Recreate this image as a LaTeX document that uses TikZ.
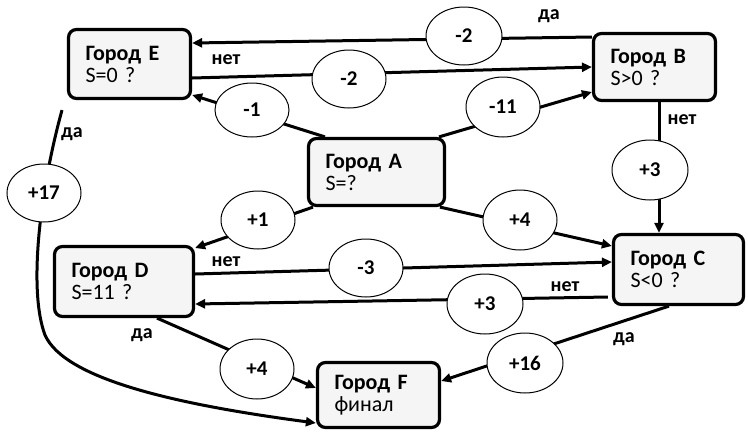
\documentclass[tikz,border=0pt]{standalone}
\usepackage{fontspec}
\setmainfont{Carlito}
\usetikzlibrary{shapes.geometric,arrows.meta,calc}
\begin{document}
\begin{tikzpicture}[x=1pt,y=-1pt,
  city/.style n args={3}{draw,line width=3.2pt,rounded corners=8pt,fill=gray!8,
    align=left,inner xsep=17pt,inner ysep=0pt,text width=#1,minimum width=#2,minimum height=#3,
    font=\fontsize{22}{22}\selectfont},
  ell/.style 2 args={ellipse,draw,line width=1pt,fill=white,minimum width=#1,minimum height=#2,
    inner sep=0pt,font=\bfseries\fontsize{21}{21}\selectfont},
  lab/.style={font=\bfseries\fontsize{20}{20}\selectfont,inner sep=0pt},
  conn/.style={line width=3pt,-{Triangle[length=10pt,width=9pt]}}]
\useasboundingbox (0,0) rectangle (748,432);
% boxes
\node[city={88pt}{122pt}{69pt}] (E) at (129.5,64) {\textbf{Город E}\\S=0 ?};
\node[city={88pt}{122pt}{67pt}] (B) at (654.5,67) {\textbf{Город B}\\S>0 ?};
\node[city={102pt}{136pt}{67pt}] (A) at (376.5,172) {\textbf{Город A}\\S=?};
\node[city={105pt}{139pt}{70pt}] (D) at (124,281.5) {\textbf{Город D}\\S=11 ?};
\node[city={96pt}{130pt}{70pt}] (C) at (678.5,269.5) {\textbf{Город C}\\S<0 ?};
\node[city={88pt}{122pt}{65pt}] (F) at (378.5,395) {\textbf{Город F}\\финал};
% connectors
\draw[conn] (B.west |- 0,37) -- (E.east |- 0,43);
\draw[conn] (E.east |- 0,78) -- (B.west |- 0,67);
\draw[conn] (A.north -| 325,0) -- (E.east |- 0,95);
\draw[conn] (A.north -| 439,0) -- (B.west |- 0,92);
\draw[conn] (B.south -| 659,0) -- (C.north -| 659,0);
\draw[conn] (A.south -| 313,0) -- (D.east |- 0,248);
\draw[conn] (A.south -| 440,0) -- (C.west |- 0,246);
\draw[conn] (D.east |- 0,274) -- (C.west |- 0,262);
\draw[conn] ($(C.west |- 0,297)+(-4,0)$) -- (D.east |- 0,304);
\draw[conn] (D.south -| 157,0) -- (F.west |- 0,388);
\draw[conn] (C.south -| 669,0) -- (F.east |- 0,381);
\draw[conn] ($(E.south -| 62,0)+(0,10)$) .. controls (40,190) and (28,290) .. (45,335)
  .. controls (65,380) and (180,405) .. (F.west |- 0,423);
% value ellipses
\node[ell={76pt}{58pt}] (v1) at (464,36) {-2};
\node[ell={74pt}{58pt}] (v2) at (349,79) {-2};
\node[ell={74pt}{54pt}] (v3) at (252,110) {-1};
\node[ell={74pt}{60pt}] (v4) at (503,107) {-11};
\node[ell={76pt}{60pt}] (v5) at (650,170) {+3};
\node[ell={74pt}{58pt}] (v6) at (44,193) {+17};
\node[ell={74pt}{58pt}] (v7) at (258,220) {+1};
\node[ell={74pt}{60pt}] (v8) at (520,220) {+4};
\node[ell={74pt}{58pt}] (v9) at (366,268) {-3};
\node[ell={76pt}{60pt}] (v10) at (485,304) {+3};
\node[ell={76pt}{60pt}] (v11) at (525,363) {+16};
\node[ell={74pt}{60pt}] (v12) at (257,369) {+4};
% yes/no labels
\node[lab] (l1) at (549,16) {да};
\node[lab] (l2) at (226,60) {нет};
\node[lab] (l3) at (72,134) {да};
\node[lab] (l4) at (682,120) {нет};
\node[lab] (l5) at (226,262) {нет};
\node[lab] (l6) at (565,287) {нет};
\node[lab] (l7) at (142,335) {да};
\node[lab] (l8) at (624,339) {да};
\end{tikzpicture}
\end{document}
